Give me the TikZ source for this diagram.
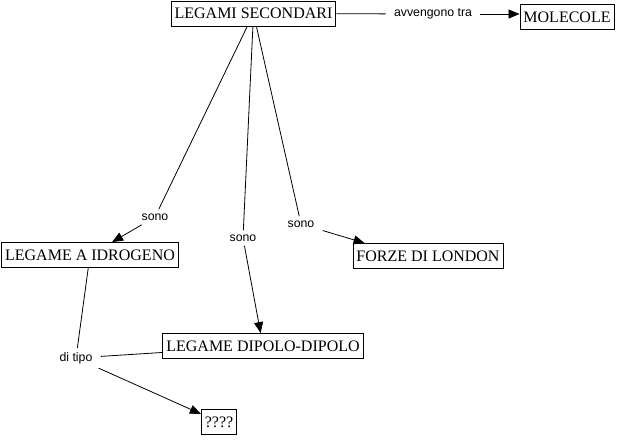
\documentclass[tikz,border=0pt]{standalone}
\usepackage{fontspec}
\setmainfont{Liberation Serif}
\setsansfont{Liberation Sans}
\usepackage{tikz}
\usetikzlibrary{arrows.meta}

\begin{document}
\begin{tikzpicture}[x=1pt,y=-1pt,line width=0.8pt,
    >={Triangle[length=11pt,width=9pt]},
    box/.style={draw,font=\fontsize{16}{18}\selectfont,inner xsep=3.5pt,minimum height=25pt},
    lbl/.style={font=\sffamily\fontsize{12.3}{14}\selectfont,inner xsep=8pt,inner ysep=4pt}]
  \useasboundingbox (0,0) rectangle (618,439);
  % concepts
  \node[box] (sec)   at (253.5,13.5) {LEGAMI SECONDARI};
  \node[box] (mol)   at (567,17)     {MOLECOLE};
  \node[box] (idro)  at (90,255)     {LEGAME A IDROGENO};
  \node[box] (forze) at (428,256)    {FORZE DI LONDON};
  \node[box] (dip)   at (263,346)    {LEGAME DIPOLO-DIPOLO};
  \node[box] (q)     at (219,422)    {????};
  % linking words
  \node[lbl] (avv)   at (433,14)  {avvengono tra};
  \node[lbl] (sono1) at (155,217) {sono};
  \node[lbl] (sono2) at (243,238) {sono};
  \node[lbl] (sono3) at (301,224) {sono};
  \node[lbl] (tipo)  at (76,358)  {di tipo};
  % links
  \draw (sec) -- (avv);
  \draw[->] (avv) -- (avv -| mol.west);
  \draw (sec) -- (sono1);
  \draw[->] (sono1) -- (idro);
  \draw (sec) -- (sono2);
  \draw[->] (sono2) -- (dip);
  \draw (sec) -- (sono3);
  \draw[->] (sono3) -- ([xshift=12pt]forze.north west);
  \draw (idro) -- (tipo);
  \draw (tipo) -- (dip);
  \draw[->] (tipo) -- (q);
\end{tikzpicture}
\end{document}
